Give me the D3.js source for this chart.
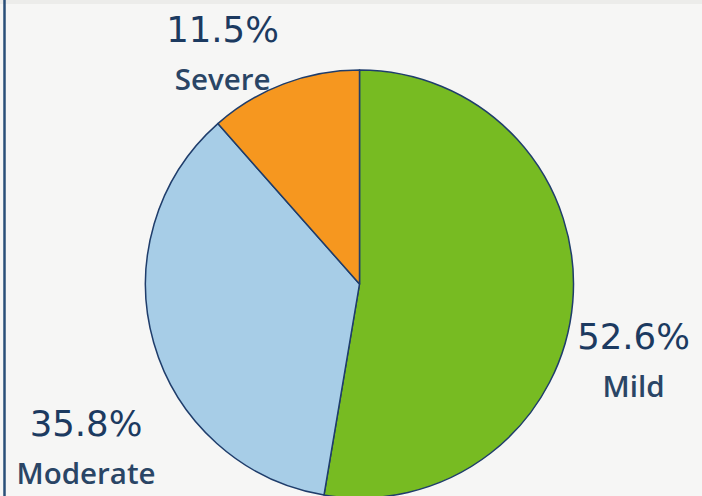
<!DOCTYPE html>
<html>
<head>
<meta charset="utf-8">
<script src="https://cdn.jsdelivr.net/npm/d3@7"></script>
<style>
  html, body { margin: 0; padding: 0; background: #f6f6f5; }
  svg { display: block; }
</style>
</head>
<body>
<svg id="chart" width="702" height="496"></svg>
<script>
// Share of cases by severity
const categories = ["Mild", "Moderate", "Severe"];
const shares = [52.6, 35.8, 11.5];
const percentLabels = ["52.6%", "35.8%", "11.5%"];

const colors = { Mild: "#77bb22", Moderate: "#a7cde7", Severe: "#f6971f" };

const W = 702, H = 496;
const cx = 359.5, cy = 284, radius = 214;

const svg = d3.select("#chart");

// panel background and left frame line
svg.append("rect").attr("x", 0).attr("y", 0).attr("width", W).attr("height", H).attr("fill", "#f6f6f5");
svg.append("rect").attr("x", 0).attr("y", 0).attr("width", W).attr("height", 4).attr("fill", "#ececea");
svg.append("line").attr("x1", 4.5).attr("x2", 4.5).attr("y1", 0).attr("y2", H)
  .attr("stroke", "#2a4f78").attr("stroke-width", 2.5);

const data = categories.map((c, i) => ({ category: c, value: shares[i], label: percentLabels[i] }));

const pie = d3.pie().value(d => d.value).sort(null);
const arc = d3.arc().innerRadius(0).outerRadius(radius);
const arcs = pie(data);

const g = svg.append("g").attr("transform", `translate(${cx},${cy})`);

g.selectAll("path.slice")
  .data(arcs)
  .join("path")
  .attr("class", "slice")
  .attr("d", arc)
  .attr("fill", d => colors[d.data.category])
  .attr("stroke", "#1f3d6b")
  .attr("stroke-width", 1.5)
  .attr("stroke-linejoin", "round");

// label placement: point along the slice's mid-angle, then nudged clear of the rim
const labelArc = d3.arc().innerRadius(radius + 60).outerRadius(radius + 60);
const nudge = {
  Mild: [1, 66],
  Moderate: [-10, 101],
  Severe: [-40, 38]
};

const labels = g.selectAll("g.lbl")
  .data(arcs)
  .join("g")
  .attr("class", "lbl")
  .attr("transform", d => {
    const [x, y] = labelArc.centroid(d);
    const [nx, ny] = nudge[d.data.category];
    return `translate(${x + nx},${y + ny})`;
  });

labels.append("text")
  .attr("text-anchor", "middle")
  .attr("y", -24)
  .attr("font-family", "'DejaVu Sans', sans-serif")
  .attr("font-size", 35.5)
  .attr("fill", "#1c3a60")
  .text(d => d.data.label);

labels.append("text")
  .attr("text-anchor", "middle")
  .attr("y", 24)
  .attr("font-family", "'Open Sans', sans-serif")
  .attr("font-weight", 600)
  .attr("font-size", 29.5)
  .attr("fill", "#2a4565")
  .text(d => d.data.category);
</script>
</body>
</html>
